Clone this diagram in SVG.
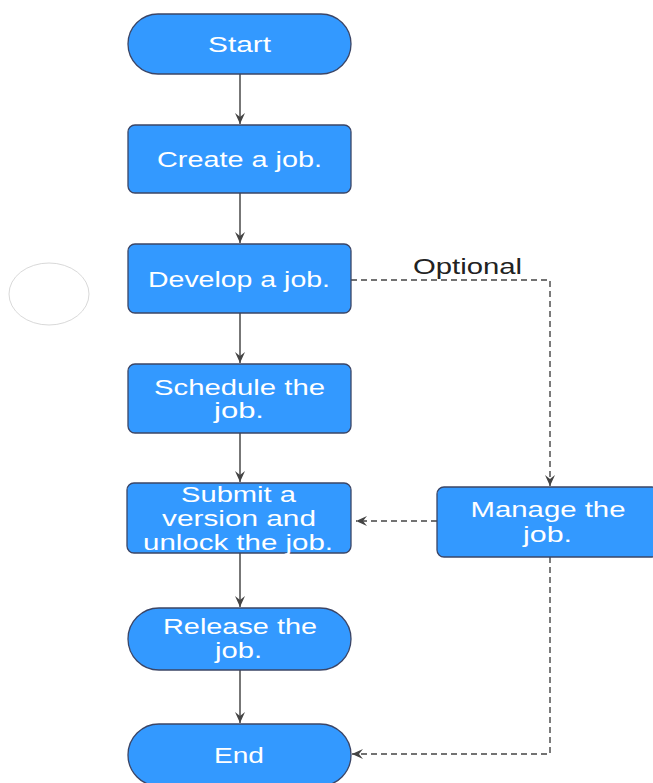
<svg xmlns="http://www.w3.org/2000/svg" width="653" height="783" viewBox="0 0 653 783">
<style>
.n{fill:#3399ff;stroke:#3b4566;stroke-width:1.3}
.t{font-family:"Liberation Sans",Arial,sans-serif;font-size:22px;fill:#ffffff;text-anchor:middle}
.lbl{font-family:"Liberation Sans",Arial,sans-serif;font-size:22px;fill:#222222;text-anchor:middle}
.c{fill:none;stroke:#555555;stroke-width:1.6}
.d{fill:none;stroke:#444444;stroke-width:1.4;stroke-dasharray:6,4}
</style>
<defs>
<marker id="ah" viewBox="0 0 12 12" refX="11" refY="6" markerWidth="12" markerHeight="12" markerUnits="userSpaceOnUse" orient="auto">
<path d="M0,1 L11,6 L0,11 L4,6 Z" fill="#444444"/>
</marker>
</defs>
<rect width="653" height="783" fill="#ffffff"/>
<ellipse cx="49" cy="294" rx="40" ry="31" fill="#ffffff" stroke="#d9d9d9" stroke-width="1"/>
<g id="connectors">
<line class="c" x1="240" y1="74" x2="240" y2="124" marker-end="url(#ah)"/>
<line class="c" x1="240" y1="193" x2="240" y2="243" marker-end="url(#ah)"/>
<line class="c" x1="240" y1="313" x2="240" y2="363" marker-end="url(#ah)"/>
<line class="c" x1="240" y1="433" x2="240" y2="482" marker-end="url(#ah)"/>
<line class="c" x1="240" y1="553" x2="240" y2="607" marker-end="url(#ah)"/>
<line class="c" x1="240" y1="670" x2="240" y2="723" marker-end="url(#ah)"/>
<polyline class="d" points="351,280 550,280 550,486" marker-end="url(#ah)"/>
<line class="d" x1="437" y1="521" x2="356" y2="521" marker-end="url(#ah)"/>
<polyline class="d" points="550,557 550,754 352,754" marker-end="url(#ah)"/>
<text class="lbl" x="467.5" y="274" textLength="109" lengthAdjust="spacingAndGlyphs">Optional</text>
</g>
<g id="start">
<rect class="n" x="128" y="14" width="223" height="60" rx="30"/>
<text class="t" x="239.5" y="52" textLength="63" lengthAdjust="spacingAndGlyphs">Start</text>
</g>
<g id="create">
<rect class="n" x="128" y="125" width="223" height="68" rx="7"/>
<text class="t" x="239.5" y="167" textLength="165" lengthAdjust="spacingAndGlyphs">Create a job.</text>
</g>
<g id="develop">
<rect class="n" x="128" y="244" width="223" height="69" rx="7"/>
<text class="t" x="239" y="287" textLength="182" lengthAdjust="spacingAndGlyphs">Develop a job.</text>
</g>
<g id="schedule">
<rect class="n" x="128" y="364" width="223" height="69" rx="7"/>
<text class="t" x="239.5" y="395" textLength="171" lengthAdjust="spacingAndGlyphs">Schedule the</text>
<text class="t" x="239" y="418" textLength="50" lengthAdjust="spacingAndGlyphs">job.</text>
</g>
<g id="submit">
<rect class="n" x="127" y="483" width="224" height="70" rx="7"/>
<text class="t" x="238.5" y="502" textLength="115" lengthAdjust="spacingAndGlyphs">Submit a</text>
<text class="t" x="239" y="526" textLength="154" lengthAdjust="spacingAndGlyphs">version and</text>
<text class="t" x="238" y="550" textLength="190" lengthAdjust="spacingAndGlyphs">unlock the job.</text>
</g>
<g id="manage">
<rect class="n" x="437" y="487" width="222" height="70" rx="7"/>
<text class="t" x="548" y="517" textLength="155" lengthAdjust="spacingAndGlyphs">Manage the</text>
<text class="t" x="547.5" y="542" textLength="49" lengthAdjust="spacingAndGlyphs">job.</text>
</g>
<g id="release">
<rect class="n" x="128" y="608" width="223" height="62" rx="31"/>
<text class="t" x="240" y="634" textLength="154" lengthAdjust="spacingAndGlyphs">Release the</text>
<text class="t" x="238.5" y="658" textLength="47" lengthAdjust="spacingAndGlyphs">job.</text>
</g>
<g id="end">
<rect class="n" x="128" y="724" width="223" height="62" rx="31"/>
<text class="t" x="239" y="763" textLength="50" lengthAdjust="spacingAndGlyphs">End</text>
</g>
</svg>
